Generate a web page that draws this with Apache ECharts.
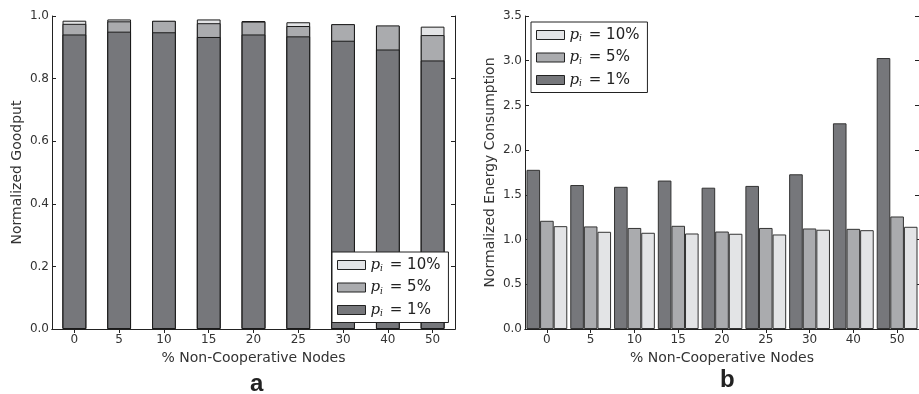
<!DOCTYPE html>
<html><head><meta charset="utf-8">
<script src="https://cdn.jsdelivr.net/npm/echarts@6/dist/echarts.min.js"></script>
<style>html,body{margin:0;padding:0;background:#fff}#c{width:919px;height:394px}</style>
</head><body><div id="c"></div>
<script>
const categories = ['0','5','10','15','20','25','30','40','50'];
// Goodput (panel a)
const goodP10 = [0.985, 0.989, 0.984, 0.989, 0.984, 0.980, 0.973, 0.968, 0.966];
const goodP5  = [0.975, 0.983, 0.985, 0.977, 0.982, 0.968, 0.974, 0.970, 0.939];
const goodP1  = [0.941, 0.950, 0.948, 0.933, 0.941, 0.935, 0.921, 0.893, 0.858];
// Energy (panel b)
const energyP1  = [1.78, 1.61, 1.59, 1.66, 1.58, 1.60, 1.73, 2.30, 3.03];
const energyP5  = [1.21, 1.147, 1.13, 1.154, 1.09, 1.13, 1.124, 1.12, 1.258];
const energyP10 = [1.15, 1.087, 1.076, 1.068, 1.065, 1.057, 1.11, 1.105, 1.143];
const goodTicks = {min: 0, max: 1, interval: 0.2};
const energyTicks = {min: 0, max: 3.5, interval: 0.5};

const C_DARK = '#76777b', C_MID = '#aaabae', C_LIGHT = '#e3e4e6';
const FONT = 'DejaVu Sans';
const names = {p10: '{p|p}{s|i} = 10%', p5: '{p|p}{s|i} = 5%', p1: '{p|p}{s|i} = 1%'};

function xAx(grid, pos, show){
  return {type:'category', data:categories, gridIndex:grid, position:pos,
    axisLine:{show:true, lineStyle:{color:'#222', width:1}},
    axisTick:{show:true, inside:true, length:4, alignWithLabel:true, lineStyle:{color:'#222'}},
    axisLabel:{show:show, color:'#333', fontFamily:FONT, fontSize:12, margin:5},
    splitLine:{show:false},
    name: show ? '% Non-Cooperative Nodes' : '', nameLocation:'middle', nameGap:20,
    nameTextStyle:{color:'#333', fontFamily:FONT, fontSize:14}};
}
function yAx(grid, pos, show, t, name, gap){
  return {type:'value', gridIndex:grid, position:pos, min:t.min, max:t.max, interval:t.interval,
    axisLine:{show:true, lineStyle:{color:'#222', width:1}},
    axisTick:{show:true, inside:true, length:4, lineStyle:{color:'#222'}},
    axisLabel:{show:show, color:'#333', fontFamily:FONT, fontSize:12, margin:3,
      formatter: v => v.toFixed(1)},
    splitLine:{show:false},
    name: show ? name : '', nameLocation:'middle', nameGap:gap, nameRotate:90,
    nameTextStyle:{color:'#333', fontFamily:FONT, fontSize:14}};
}
function legendCfg(left, top){
  return {orient:'vertical', left:left, top:top, z:20, data:['p10','p5','p1'],
    itemWidth:28, itemHeight:9, itemGap:6, padding:[5,8,4,5],
    borderColor:'#222', borderWidth:1, backgroundColor:'#fff',
    icon:'rect', selectedMode:false,
    itemStyle:{borderWidth:1, borderColor:'#222'},
    formatter: n => names[n],
    textStyle:{color:'#222', fontFamily:FONT, fontSize:15, lineHeight:16,
      rich:{p:{fontFamily:'DejaVu Serif', fontStyle:'italic', fontSize:15, color:'#222'},
            s:{fontFamily:'DejaVu Serif', fontStyle:'italic', fontSize:9, color:'#222', padding:[8,2,0,0]}}}};
}
const bs = (c, bc) => ({color:c, borderColor:bc, borderWidth:1});

const option = {
  animation:false,
  grid:[{left:52, top:16, width:403, height:313},
        {left:525, top:16, width:408, height:313}],
  xAxis:[xAx(0,'bottom',true), xAx(0,'top',false), xAx(1,'bottom',true), xAx(1,'top',false)],
  yAxis:[yAx(0,'left',true,goodTicks,'Normalized Goodput',28), yAx(0,'right',false,goodTicks,'',0),
         yAx(1,'left',true,energyTicks,'Normalized Energy Consumption',28), yAx(1,'right',false,energyTicks,'',0)],
  legend:[legendCfg(332,252), legendCfg(531,22)],
  series:[
    {name:'p10', type:'bar', xAxisIndex:0, yAxisIndex:0, data:goodP10, barWidth:'53%', barGap:'-100%', itemStyle:bs(C_LIGHT,'#1a1a1a'), z:2},
    {name:'p5',  type:'bar', xAxisIndex:0, yAxisIndex:0, data:goodP5,  barWidth:'53%', barGap:'-100%', itemStyle:bs(C_MID,'#1a1a1a'), z:3},
    {name:'p1',  type:'bar', xAxisIndex:0, yAxisIndex:0, data:goodP1,  barWidth:'53%', barGap:'-100%', itemStyle:bs(C_DARK,'#1a1a1a'), z:4},
    {name:'p1',  type:'bar', xAxisIndex:2, yAxisIndex:2, data:energyP1,  barWidth:13.6, barGap:'0%', itemStyle:bs(C_DARK,'#333')},
    {name:'p5',  type:'bar', xAxisIndex:2, yAxisIndex:2, data:energyP5,  barWidth:13.6, barGap:'0%', itemStyle:bs(C_MID,'#333')},
    {name:'p10', type:'bar', xAxisIndex:2, yAxisIndex:2, data:energyP10, barWidth:13.6, barGap:'0%', itemStyle:bs(C_LIGHT,'#333')}
  ],
  graphic:[
    {type:'text', left:250, top:372, style:{text:'a', font:'bold 24px "Liberation Sans"', fill:'#222'}},
    {type:'text', left:720, top:368, style:{text:'b', font:'bold 24px "Liberation Sans"', fill:'#222'}}
  ]
};
echarts.init(document.getElementById('c')).setOption(option);
</script></body></html>
